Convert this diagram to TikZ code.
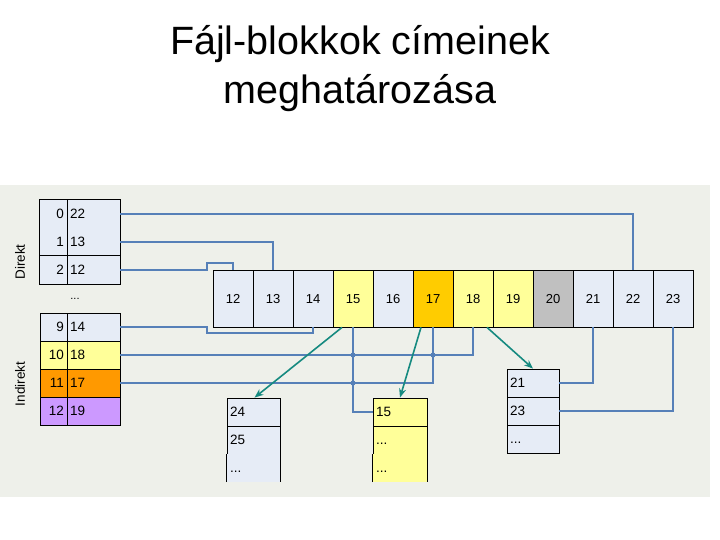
\documentclass[tikz,border=0pt]{standalone}
\usepackage{fontspec}
\setmainfont{Liberation Sans}
\usetikzlibrary{arrows.meta}

\definecolor{panel}{HTML}{EEF0EA}
\definecolor{blk}{HTML}{E6ECF6}
\definecolor{yel}{HTML}{FFFF99}
\definecolor{gold}{HTML}{FFCC00}
\definecolor{org}{HTML}{FF9900}
\definecolor{lila}{HTML}{CC99FF}
\definecolor{grau}{HTML}{C0C0C0}
\definecolor{wirec}{HTML}{5680B8}
\definecolor{tealc}{HTML}{168A80}

\tikzset{
  blockcell/.style={draw, line width=0.8pt, minimum width=40pt, minimum height=57pt,
    inner sep=0pt, text height=9.4pt, text depth=0pt, font=\fontsize{13}{15}\selectfont},
  idxcell/.style={text width=21pt, align=right, inner sep=3pt, minimum height=28pt,
    text height=9.7pt, text depth=0pt, font=\fontsize{13.5}{15}\selectfont},
  valcell/.style={text width=47pt, align=left, inner sep=3pt, minimum height=28pt,
    text height=9.7pt, text depth=0pt, font=\fontsize{13.5}{15}\selectfont},
  subcell/.style={text width=#1, align=left, inner sep=3pt, minimum height=28pt,
    text height=9.7pt, text depth=0pt, font=\fontsize{13.5}{15}\selectfont},
  wire/.style={draw=wirec, line width=2pt},
  pointer/.style={draw=tealc, line width=1.6pt, -{Stealth[length=9pt,width=7pt]}},
}

\begin{document}
\begin{tikzpicture}[x=1pt, y=-1pt]
  \useasboundingbox (0,0) rectangle (720,540);
  \fill[white] (0,0) rectangle (720,540);
  \fill[panel] (0,185) rectangle (710,497);

  % title
  \node[anchor=base, font=\fontsize{39.5}{46}\selectfont] (title1) at (360,55) {Fájl-blokkok címeinek};
  \node[anchor=base, font=\fontsize{39.5}{46}\selectfont] (title2) at (360,104) {meghatározása};

  % side labels
  \node[rotate=90, font=\fontsize{13.5}{15}\selectfont] (direkt) at (20,262) {Direkt};
  \node[rotate=90, font=\fontsize{13.5}{15}\selectfont] (indirekt) at (20,384) {Indirekt};

  % disk blocks
  \foreach \n/\c [count=\i from 0] in {12/blk,13/blk,14/blk,15/yel,16/blk,17/gold,
      18/yel,19/yel,20/grau,21/blk,22/blk,23/blk}
    \node[blockcell, fill=\c] (b\n) at (233+40*\i,298.5) {\n};

  % inode: direct entries
  \foreach \k/\v/\yy in {0/22/214, 1/13/242, 2/12/270} {
    \node[idxcell, fill=blk] (di\k) at (53.5,\yy) {\k};
    \node[valcell, fill=blk] (dv\k) at (93.5,\yy) {\v};
  }
  \draw[line width=0.8pt] (di0.north west) rectangle (dv2.south east);
  \draw[line width=0.8pt] (di2.north west) -- (dv2.north east);
  \draw[line width=0.8pt] (di0.north east) -- (di2.south east);
  \node[font=\fontsize{11}{13}\selectfont] (gap) at (75,299) {...};

  % inode: indirect entries
  \foreach \k/\v/\yy/\c in {9/14/327/blk, 10/18/355/yel, 11/17/383/org, 12/19/411/lila} {
    \node[idxcell, draw, line width=0.8pt, fill=\c] (ii\k) at (53.5,\yy) {\k};
    \node[valcell, draw, line width=0.8pt, fill=\c] (iv\k) at (93.5,\yy) {\v};
  }

  % index blocks
  \node[subcell=47pt, draw, line width=0.8pt, fill=blk] (a1) at (253.5,412) {24};
  \node[subcell=47pt, draw, line width=0.8pt, fill=blk] (a2) at (253.5,440) {25};
  \node[subcell=47pt, fill=blk] (a3) at (253.5,468) {...};
  \draw[line width=0.8pt] (a3.south west) -- (a3.north west) (a3.north east) -- (a3.south east);

  \node[subcell=48pt, draw, line width=0.8pt, fill=yel] (c1) at (400,412) {15};
  \node[subcell=48pt, draw, line width=0.8pt, fill=yel] (c2) at (400,440) {...};
  \node[subcell=48pt, fill=yel] (c3) at (400,468) {...};
  \draw[line width=0.8pt] (c3.south west) -- (c3.north west) (c3.north east) -- (c3.south east);

  \node[subcell=46pt, draw, line width=0.8pt, fill=blk] (e1) at (533,383) {21};
  \node[subcell=46pt, draw, line width=0.8pt, fill=blk] (e2) at (533,411) {23};
  \node[subcell=46pt, draw, line width=0.8pt, fill=blk] (e3) at (533,439) {...};

  % block addresses
  \draw[wire] (dv0.east) -| (b22.north);
  \draw[wire] (dv1.east) -| (b13.north);
  \draw[wire] (dv2.east) -| ([xshift=-6pt,yshift=7pt]b12.north west) -| (b12.north);
  \draw[wire] (iv9.east) -| ([xshift=-6pt,yshift=-6pt]b12.south west) -| (b14.south);
  \draw[wire, line width=2.7pt] (iv10.east) -| (b18.south);
  \draw[wire] (iv11.east) -| (b17.south);
  \draw[wire] (b15.south) |- (c1.west);
  \draw[wire] (b21.south) |- (e1.east);
  \draw[wire] (b23.south) |- (e2.east);
  \fill[wirec] (b15.south |- iv10.east) circle (2.5pt)
               (b17.south |- iv10.east) circle (2.5pt)
               (b15.south |- iv11.east) circle (2.5pt);

  % pointers to index blocks
  \draw[pointer] ([xshift=-11pt]b15.south) -- ([xshift=1pt]a1.north);
  \draw[pointer] ([xshift=-12pt]b17.south) -- (c1.north);
  \draw[pointer] ([xshift=14pt]b18.south) -- (e1.north);
\end{tikzpicture}
\end{document}
